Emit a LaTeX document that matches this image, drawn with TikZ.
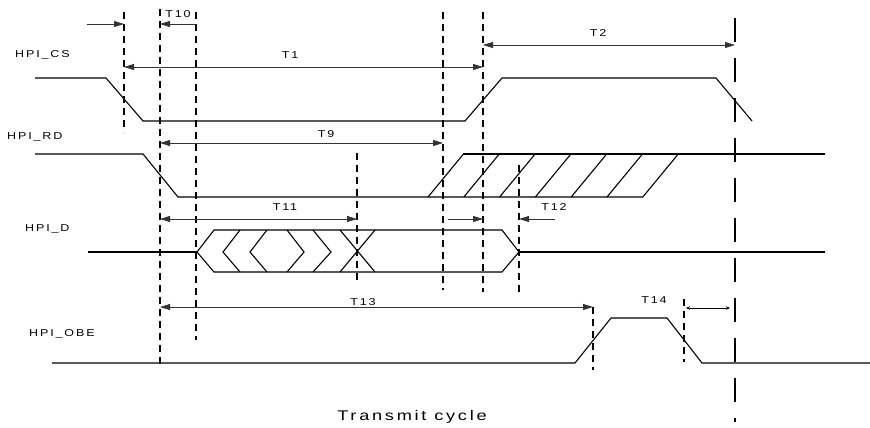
\documentclass[tikz,border=0pt]{standalone}
\usepackage{graphicx}
\usepackage{fontspec}
\setmainfont{Liberation Sans}
\usetikzlibrary{arrows.meta}

\newcommand\siglbl{\fontsize{10}{12}\selectfont\addfontfeature{LetterSpace=15}}
\newcommand\biglbl{\fontsize{14}{17}\selectfont\addfontfeature{LetterSpace=15}}
\newcommand\wide[1]{\scalebox{1.25}[1]{#1}}

\begin{document}
\begin{tikzpicture}[x=1pt, y=-1pt,
    wave/.style={line width=1.1pt, line join=miter},
    guide/.style={line width=1.4pt, dash pattern=on 7pt off 5pt},
    longguide/.style={line width=1.4pt, dash pattern=on 24pt off 16pt},
    dim/.style={line width=0.8pt, draw=black!80, {Triangle[length=10pt,width=6pt]}-{Triangle[length=10pt,width=6pt]}},
    dimr/.style={line width=0.8pt, draw=black!80, -{Triangle[length=10pt,width=6pt]}},
    dimsmall/.style={line width=0.7pt, {Stealth[length=4pt,width=3.5pt]}-{Stealth[length=4pt,width=3.5pt]}},
    tlbl/.style={font=\siglbl, inner sep=0pt},
    slbl/.style={font=\siglbl, anchor=west, inner sep=0pt}]
  \useasboundingbox (0,0) rectangle (870,428);

  % Markierungen (gestrichelt)
  \foreach \name/\x/\ya/\yb in {ga/124/12/132, gb/160/9/368, gc/196/12/340,
                                 gd/443/12/290, ge/483/12/292, gf/357/153/283,
                                 gg/519/165/293, gh/593/307/370, gi/684/299/362} {
    \draw[guide] (\x,\ya) coordinate (\name) -- (\x,\yb);
  }
  \draw[longguide] (735,18) coordinate (gz) -- (735,422);

  % Signalnamen
  \node[slbl] (ncs)  at (15,55)  {\wide{HPI\_CS}};
  \node[slbl] (nrd)  at (7,137)  {\wide{HPI\_RD}};
  \node[slbl] (nd)   at (25,229) {\wide{HPI\_D}};
  \node[slbl] (nobe) at (29,334) {\wide{HPI\_OBE}};

  % HPI_CS
  \draw[wave] (35,78) -- (106,78) -- (143,121) -- (465,121) -- (502,78)
              -- (716,78) -- (752,121);

  % HPI_RD mit ungueltigem Bereich
  \draw[wave] (35,154) -- (143,154) -- (178,197) -- (643,197);
  \draw[wave] (463,154) -- (825,154);
  \foreach \i in {0,...,6}
    \draw[wave] (428+35.8*\i,197) -- ++(35.5,-43);

  % HPI_D Bus
  \draw[wave] (88,252) -- (197,252);
  \draw[wave] (197,252) -- (214,230) -- (502,230) -- (519,252)
              -- (502,272) -- (214,272) -- cycle;
  \draw[wave] (519,252) -- (825,252);
  \foreach \a/\b in {240/223, 267/250, 287/304, 313/331}
    \draw[wave] (\a,230) -- (\b,252) -- (\a,272);
  \draw[wave] (340,230) -- (375,272) (340,272) -- (375,230);

  % HPI_OBE
  \draw[wave] (52,363) -- (575,363) -- (611,318) -- (667,318) -- (702,363)
              -- (870,363);

  % Zeiten
  \coordinate (pin) at (87,24);
  \draw[dimr] (pin) -- (ga |- pin);
  \draw[dimr] (gc |- 0,24) -- (gb |- 0,24);
  \node[tlbl] (t10) at (178,14) {\wide{T10}};
  \draw[dim] (ga |- 0,67) -- (ge |- 0,67);
  \node[tlbl] (t1) at (290,55) {\wide{T1}};
  \draw[dim] (ge |- 0,45) -- (gz |- 0,45);
  \node[tlbl] (t2) at (598,33) {\wide{T2}};
  \draw[dim] (gb |- 0,143) -- (gd |- 0,143);
  \node[tlbl] (t9) at (326,134) {\wide{T9}};
  \draw[dim] (gb |- 0,219) -- (gf |- 0,219);
  \node[tlbl] (t11) at (285,207) {\wide{T11}};
  \coordinate (hin) at (448,219);
  \draw[dimr] (hin) -- (ge |- hin);
  \coordinate (zur) at (555,219);
  \draw[dimr] (zur) -- (gg |- zur);
  \node[tlbl] (t12) at (554,207) {\wide{T12}};
  \draw[dim] (gb |- 0,307) -- (gh |- 0,307);
  \node[tlbl] (t13) at (363,302) {\wide{T13}};
  \draw[dimsmall] (686,308) -- (730,308);
  \node[tlbl] (t14) at (654,300) {\wide{T14}};

  \node[font=\biglbl, inner sep=0pt] (cap) at (412,417) {\scalebox{1.3}[1]{Transmit cycle}};
\end{tikzpicture}
\end{document}
